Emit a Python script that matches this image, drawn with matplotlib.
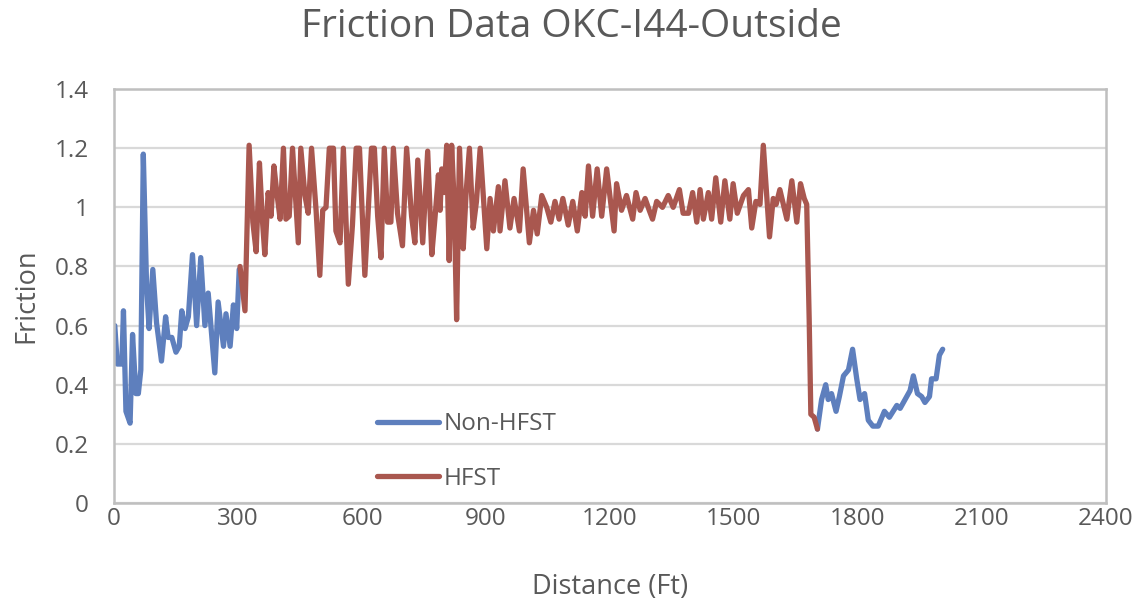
"""
Friction along OKC-I44 (outside lane), HFST section vs. untreated pavement.
"""
import matplotlib
matplotlib.use("Agg")
import numpy as np
import matplotlib.pyplot as plt

TEXT_COLOR = "#595959"
GRID_COLOR = "#D9D9D9"
FRAME_COLOR = "#BFBFBF"
BLUE = "#5E7FBD"
RED = "#A9574F"

# Non-HFST, before the treated section
pre_ft = [2, 8, 19, 23, 29, 39, 45, 53, 59, 65, 71, 79, 85, 94, 103, 115, 125,
          131, 140, 150, 158, 164, 172, 180, 190, 200, 210, 220, 228, 244, 252,
          265, 271, 281, 289, 297, 303]
pre_friction = [0.60, 0.47, 0.47, 0.65, 0.31, 0.27, 0.57, 0.37, 0.37, 0.45, 1.18,
                0.73, 0.59, 0.79, 0.61, 0.48, 0.63, 0.56, 0.56, 0.51, 0.53, 0.65,
                0.59, 0.63, 0.84, 0.60, 0.83, 0.60, 0.71, 0.44, 0.68, 0.53, 0.64,
                0.53, 0.67, 0.59, 0.79]

# HFST section
hfst_ft = [305, 317, 327, 336, 344, 352, 359, 365, 373, 380, 387, 394, 402, 410,
           416, 424, 432, 446, 452, 462, 470, 478, 489, 498, 505, 513, 521, 531,
           537, 547, 555, 567, 577, 586, 594, 607, 614, 623, 630, 638, 646, 654,
           662, 670, 676, 686, 698, 708, 720, 728, 735, 747, 759, 769, 777, 785,
           789, 793, 799, 805, 811, 817, 823, 829, 836, 845, 852, 860, 869, 877,
           886, 902, 910, 918, 930, 934, 946, 958, 968, 981, 990, 1005, 1015,
           1024, 1035, 1047, 1057, 1067, 1077, 1086, 1099, 1110, 1121, 1132, 1140,
           1148, 1158, 1169, 1180, 1192, 1210, 1216, 1228, 1240, 1255, 1263, 1273,
           1285, 1295, 1303, 1313, 1327, 1341, 1353, 1368, 1377, 1390, 1400, 1410,
           1418, 1426, 1438, 1446, 1456, 1468, 1478, 1490, 1498, 1508, 1523, 1535,
           1543, 1553, 1563, 1571, 1586, 1595, 1602, 1611, 1628, 1640, 1652, 1661,
           1670, 1676, 1682, 1686, 1694, 1702]
hfst_friction = [0.80, 0.65, 1.21, 0.95, 0.85, 1.15, 0.96, 0.84, 1.05, 0.97, 1.14,
                 1.05, 0.96, 1.20, 0.96, 0.97, 1.20, 0.88, 1.20, 1.04, 0.98, 1.20,
                 0.99, 0.77, 0.99, 1.00, 1.20, 1.20, 0.92, 0.88, 1.20, 0.74, 0.94,
                 1.20, 1.20, 0.77, 0.96, 1.20, 1.20, 0.97, 0.83, 1.20, 0.95, 0.95,
                 1.20, 0.98, 0.87, 1.20, 0.97, 0.88, 1.16, 0.88, 1.19, 0.84, 0.97,
                 1.11, 0.99, 1.13, 1.05, 1.21, 0.82, 1.21, 1.02, 0.62, 1.20, 0.86,
                 1.05, 1.20, 0.93, 1.02, 1.20, 0.86, 1.03, 0.92, 1.07, 0.92, 1.09,
                 0.93, 1.03, 0.92, 1.13, 0.88, 0.99, 0.91, 1.04, 1.00, 0.95, 1.02,
                 0.96, 1.03, 0.94, 1.02, 0.92, 1.05, 0.97, 1.14, 0.97, 1.13, 0.97,
                 1.13, 0.92, 1.08, 0.99, 1.04, 0.96, 1.05, 0.99, 1.03, 0.99, 0.96,
                 1.02, 1.00, 1.04, 1.00, 1.06, 0.98, 0.98, 1.05, 0.95, 1.06, 0.96,
                 1.05, 0.96, 1.10, 0.95, 1.09, 0.96, 1.08, 0.98, 1.04, 1.06, 0.93,
                 1.02, 1.01, 1.21, 0.90, 1.03, 1.01, 1.06, 0.96, 1.09, 0.95, 1.08,
                 1.03, 1.01, 0.62, 0.30, 0.29, 0.25]

# Non-HFST, after the treated section
post_ft = [1702, 1712, 1722, 1728, 1736, 1747, 1755, 1765, 1777, 1787, 1797, 1805,
           1816, 1825, 1836, 1849, 1864, 1876, 1894, 1902, 1918, 1926, 1934, 1944,
           1954, 1962, 1973, 1978, 1989, 1997, 2005]
post_friction = [0.25, 0.35, 0.40, 0.35, 0.37, 0.31, 0.36, 0.43, 0.45, 0.52, 0.42,
                 0.35, 0.37, 0.28, 0.26, 0.26, 0.31, 0.29, 0.33, 0.32, 0.36, 0.38,
                 0.43, 0.37, 0.36, 0.34, 0.36, 0.42, 0.42, 0.50, 0.52]

x_ticks = [0, 300, 600, 900, 1200, 1500, 1800, 2100, 2400]
y_ticks = [0, 0.2, 0.4, 0.6, 0.8, 1.0, 1.2, 1.4]
y_tick_labels = ["0", "0.2", "0.4", "0.6", "0.8", "1", "1.2", "1.4"]


def main():
    plt.rcParams['font.family'] = ['Open Sans', 'DejaVu Sans']

    fig = plt.figure(figsize=(11.43, 6.06), dpi=100)
    ax = fig.add_axes([0.0997, 0.170, 0.8679, 0.683])

    line_kw = dict(lw=3.8, solid_joinstyle='round', solid_capstyle='round')
    ax.plot(pre_ft, pre_friction, color=BLUE, label="Non-HFST", **line_kw)
    ax.plot(post_ft, post_friction, color=BLUE, **line_kw)
    ax.plot(hfst_ft, hfst_friction, color=RED, label="HFST", **line_kw)

    ax.set_xlim(0, 2400)
    ax.set_ylim(0, 1.4)
    ax.set_xticks(x_ticks)
    ax.set_yticks(y_ticks)
    ax.set_yticklabels(y_tick_labels)
    ax.tick_params(length=0, labelsize=17.5, labelcolor=TEXT_COLOR)
    ax.tick_params(axis='x', pad=3)
    ax.tick_params(axis='y', pad=18)

    ax.grid(axis='y', color=GRID_COLOR, lw=1.6)
    ax.set_axisbelow(True)
    for spine in ax.spines.values():
        spine.set_color(FRAME_COLOR)
        spine.set_linewidth(1.8)

    fig.text(0.5, 1 - 27 / 606, "Friction Data OKC-I44-Outside", fontsize=28,
             color=TEXT_COLOR, ha='center', va='center')
    ax.set_xlabel("Distance (Ft)", fontsize=19.5, color=TEXT_COLOR, labelpad=30)
    ax.set_ylabel("Friction", fontsize=19.5, color=TEXT_COLOR, labelpad=10)

    leg = ax.legend(loc='center left', bbox_to_anchor=(0.243, 0.124), frameon=False,
                    fontsize=17.5, handlelength=2.55, handletextpad=0.2,
                    labelspacing=1.25)
    for text in leg.get_texts():
        text.set_color(TEXT_COLOR)

    fig.savefig("out.png", dpi=100, facecolor='white')


if __name__ == "__main__":
    main()
